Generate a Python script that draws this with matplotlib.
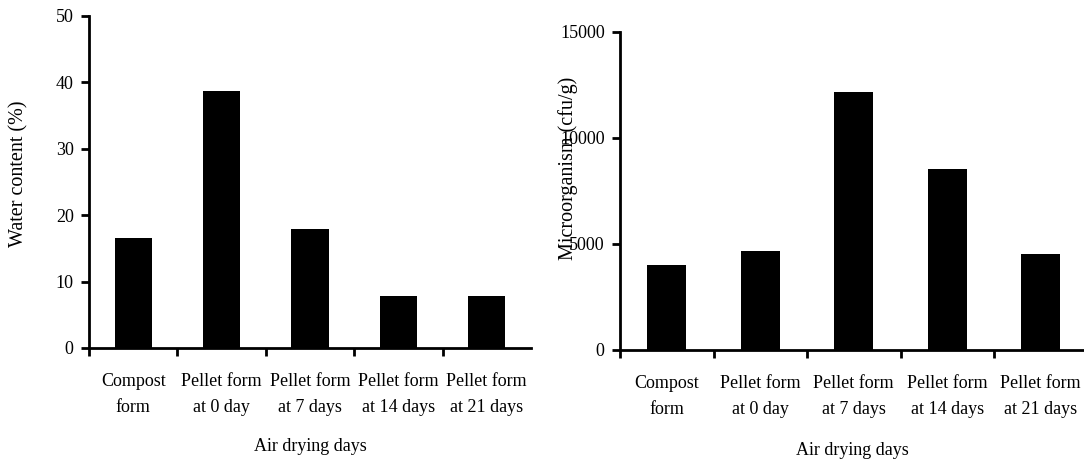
import matplotlib
matplotlib.use("Agg")
import matplotlib.pyplot as plt
import numpy as np

plt.rcParams['font.family'] = ['Liberation Serif', 'DejaVu Serif']

categories = ["Compost\nform", "Pellet form\nat 0 day", "Pellet form\nat 7 days",
              "Pellet form\nat 14 days", "Pellet form\nat 21 days"]
water_content = [16.6, 38.7, 17.9, 7.8, 7.8]
microorganism = [4000, 4650, 12170, 8540, 4530]

W, H = 1084, 462
fig = plt.figure(figsize=(W / 100, H / 100), dpi=100)

FS = 13

def make_ax(left, right, bottom, top, xmax):
    ax = fig.add_axes([left / W, (H - bottom) / H, (right - left) / W, (bottom - top) / H])
    ax.set_xlim(0, xmax)
    for s in ("top", "right"):
        ax.spines[s].set_visible(False)
    for s in ("left", "bottom"):
        ax.spines[s].set_linewidth(2)
    ax.tick_params(axis="both", which="major", direction="out", length=6, width=2,
                   labelsize=FS, pad=5)
    return ax

def draw(ax, values, ylim, yticks, ylabel, ylabel_coords, xlabel_y):
    pos = np.arange(len(values)) + 0.5
    ax.bar(pos, values, width=0.42, color="black")
    ax.set_ylim(*ylim)
    ax.set_yticks(yticks)
    ax.set_xticks(np.arange(len(values)))
    ax.set_xticklabels([])
    ax.set_xticks(pos, minor=True)
    ax.set_xticklabels(categories, minor=True, fontsize=FS, linespacing=1.7)
    ax.tick_params(axis="x", which="minor", length=0, pad=18)
    ax.set_ylabel(ylabel, fontsize=14.5)
    ax.yaxis.set_label_coords(*ylabel_coords)
    ax.set_xlabel("Air drying days", fontsize=FS)
    ax.xaxis.set_label_coords(0.5, xlabel_y)

ax1 = make_ax(89, 531, 348, 16, 5)
draw(ax1, water_content, (0, 50), [0, 10, 20, 30, 40, 50], "Water content (%)",
     (-0.138, 0.524), -0.27)

ax2 = make_ax(620, 1084, 350, 32, (1084 - 620) / 93.5)
draw(ax2, microorganism, (0, 15000), [0, 5000, 10000, 15000], "Microorganism (cfu/g)",
     (-0.0905, 0.572), -0.29)

fig.savefig("out.png", dpi=100)
